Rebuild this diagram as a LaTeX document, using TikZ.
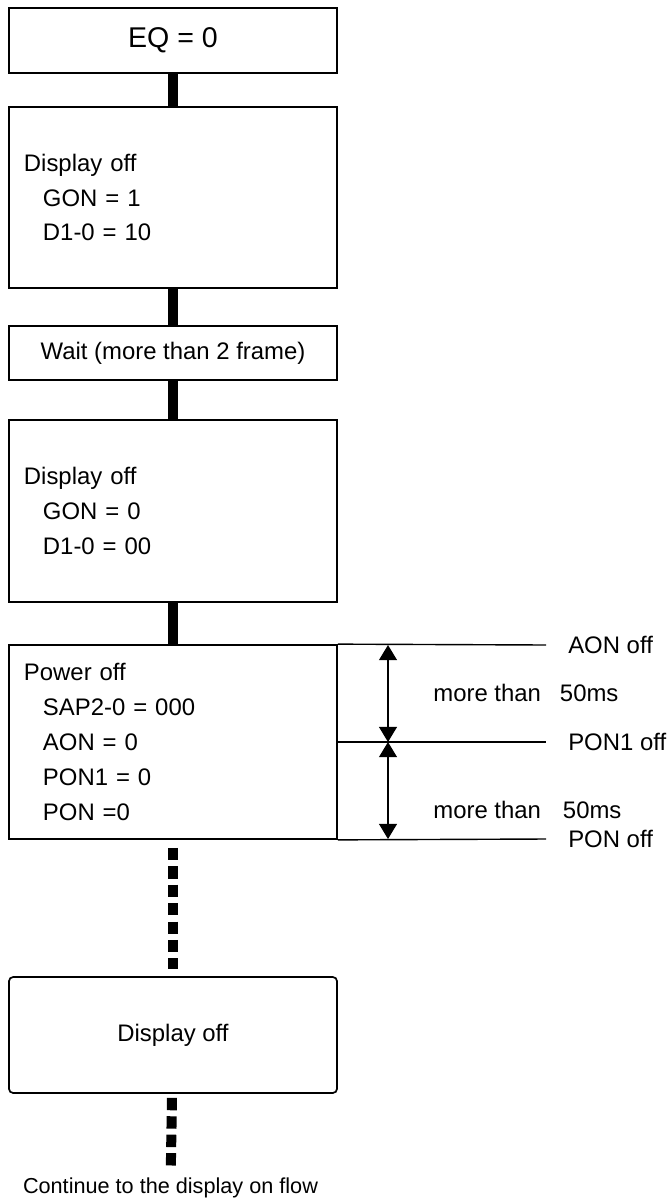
\documentclass[tikz,border=0pt]{standalone}
\usepackage{fontspec}
\setmainfont{Liberation Sans}
\usetikzlibrary{arrows.meta}

\begin{document}
\begin{tikzpicture}[x=0.025cm, y=-0.025cm]
    % Styles for boxes and lines
    \tikzset{
      box/.style={rectangle, draw=black, line width=1.2pt, minimum width=8.2cm, inner sep=0pt, font=\fontsize{17pt}{24.8pt}\selectfont},
      listbox/.style={box, align=left, text width=7.45cm},
      bar/.style={line width=0.23cm},
      dots/.style={line width=0.25cm, dash pattern=on 0.31cm off 0.15cm},
      rule/.style={line width=1pt},
      arrow/.style={line width=1pt, {Triangle[width=0.45cm,length=0.38cm]}-{Triangle[width=0.45cm,length=0.38cm]}},
      lbl/.style={anchor=west, inner xsep=0.55cm, font=\fontsize{17pt}{20pt}\selectfont},
      txt/.style={font=\fontsize{17pt}{20pt}\selectfont}
    }
    \useasboundingbox (0,0) rectangle (669,1203);

    % Nodes with explicit coordinates
    \node[box, minimum height=1.625cm, font=\fontsize{20.3pt}{24pt}\selectfont] (EQ) at (173,40.5) {EQ = 0};
    \node[listbox, minimum height=4.525cm] (offA) at (173,197.5) {Display off\\\hspace*{0.475cm}GON = 1\\\hspace*{0.475cm}D1-0 = 10};
    \node[box, minimum height=1.35cm] (wait) at (173,353) {Wait (more than 2 frame)};
    \node[listbox, minimum height=4.55cm] (offB) at (173,511) {Display off\\\hspace*{0.475cm}GON = 0\\\hspace*{0.475cm}D1-0 = 00};
    \node[listbox, minimum height=4.85cm] (pwr) at (173,742) {Power off\\\hspace*{0.475cm}SAP2-0 = 000\\\hspace*{0.475cm}AON = 0\\\hspace*{0.475cm}PON1 = 0\\\hspace*{0.475cm}PON =0};
    \node[box, rounded corners=3pt, minimum height=2.9cm] (dispoff) at (173,1035) {Display off};
    \node[txt, font=\fontsize{15.4pt}{18pt}\selectfont] (cont) at (170.5,1188) {Continue to the display on flow};

    % Timing on the right
    \node[lbl] (aonoff) at (546,645) {AON off};
    \node[lbl] (pon1off) at (546,742) {PON1 off};
    \node[lbl] (ponoff) at (546,839) {PON off};
    \node[txt, anchor=east] (more1) at (546,693) {more than};
    \node[txt, anchor=west] (ms1) at (555,693) {50ms};
    \node[txt, anchor=east] (more2) at (546,810) {more than};
    \node[txt, anchor=west] (ms2) at (558,810) {50ms};
    \coordinate (gap) at (388,742);

    % Connectors
    \draw[bar] (EQ) -- (offA);
    \draw[bar] (offA) -- (wait);
    \draw[bar] (wait) -- (offB);
    \draw[bar] (offB) -- (pwr);
    \draw[dots, shorten <=0.2cm, shorten >=0.18cm] (pwr) -- (dispoff);
    \draw[dots, shorten <=0.1cm, shorten >=0.08cm] (dispoff) -- (cont);

    \draw[rule] (pwr.north east) -- (aonoff.west);
    \draw[rule] (pwr.east) -- (pon1off.west);
    \draw[rule] (pwr.south east) -- (ponoff.west);
    \draw[arrow] (gap |- aonoff.west) -- (gap |- pon1off.west);
    \draw[arrow] (gap |- pon1off.west) -- (gap |- ponoff.west);

\end{tikzpicture}
\end{document}
